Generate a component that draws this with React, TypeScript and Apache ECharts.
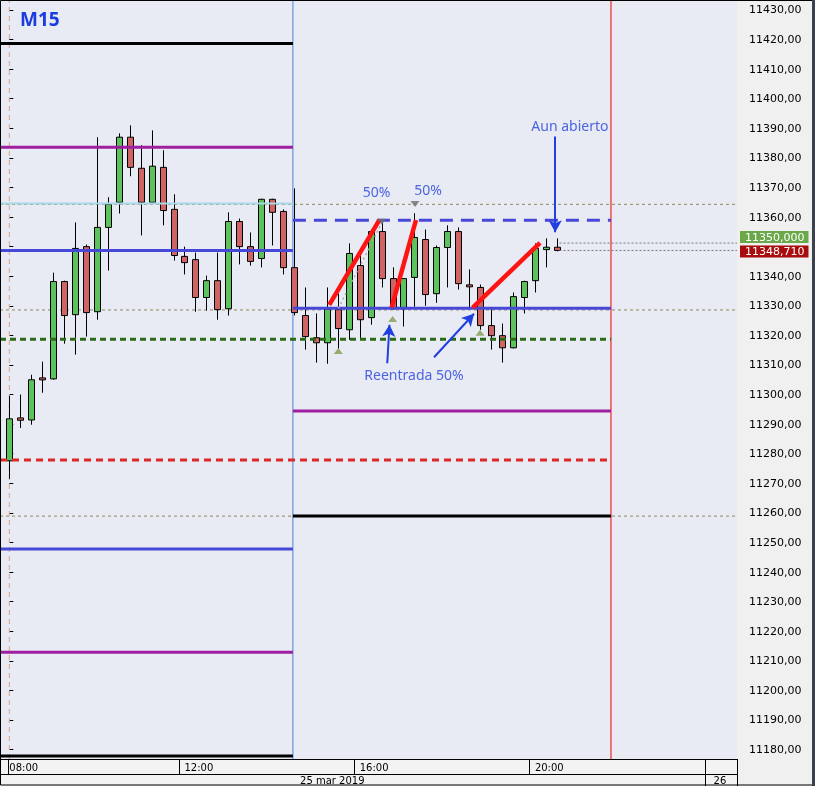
import React, { useEffect, useRef } from 'react';
import * as echarts from 'echarts';

// ---- candle data (M15, 25 mar 2019, from 08:00) ----
const opens = [11277.6, 11292.1, 11291.4, 11305.5, 11305.3, 11338.2, 11327.0, 11350.0, 11328.0, 11356.5,
  11365.0, 11387.0, 11376.5, 11365.0, 11376.8, 11362.6, 11346.7, 11345.6, 11332.8, 11338.5,
  11329.0, 11358.5, 11350.0, 11346.0, 11366.0, 11361.9, 11342.9, 11326.7, 11319.2, 11317.5,
  11328.7, 11321.9, 11343.6, 11326.0, 11355.1, 11339.2, 11329.0, 11339.6, 11352.4, 11334.1,
  11349.7, 11355.1, 11336.9, 11336.2, 11323.3, 11319.9, 11315.8, 11332.8, 11338.5, 11349.0, 11349.8];
const closes = [11291.8, 11291.3, 11305.0, 11305.1, 11338.2, 11326.7, 11349.4, 11327.7, 11356.5, 11364.3,
  11387.0, 11376.8, 11365.0, 11377.2, 11362.2, 11347.0, 11344.6, 11332.8, 11338.5, 11328.7,
  11358.5, 11350.0, 11345.0, 11366.0, 11361.6, 11342.9, 11327.7, 11319.6, 11317.5, 11328.9,
  11322.3, 11347.7, 11325.3, 11355.1, 11339.2, 11329.0, 11339.2, 11353.1, 11333.8, 11349.7,
  11355.1, 11337.5, 11336.6, 11323.3, 11319.9, 11315.8, 11333.1, 11338.2, 11349.4, 11349.8, 11348.71];
const lows = [11271.5, 11288.7, 11289.8, 11300.6, 11305.0, 11317.2, 11313.5, 11319.6, 11325.3, 11341.9,
  11361.2, 11373.8, 11353.8, 11365.0, 11357.2, 11345.3, 11340.6, 11328.0, 11328.4, 11325.3,
  11326.7, 11344.0, 11343.6, 11343.0, 11350.4, 11340.6, 11326.7, 11315.2, 11310.8, 11310.4,
  11315.5, 11318.5, 11318.9, 11323.6, 11336.2, 11328.7, 11323.0, 11329.7, 11330.0, 11331.0,
  11336.2, 11335.5, 11329.4, 11321.9, 11315.2, 11310.8, 11315.6, 11327.4, 11334.5, 11343.0, 11348.4];
const highs = [11299.6, 11300.0, 11306.7, 11311.1, 11341.2, 11338.5, 11358.2, 11350.7, 11387.0, 11366.7,
  11388.3, 11391.0, 11384.3, 11389.3, 11382.6, 11367.7, 11350.0, 11348.0, 11340.2, 11348.0,
  11361.6, 11359.5, 11354.8, 11366.2, 11366.2, 11362.6, 11369.7, 11336.2, 11327.4, 11336.2,
  11334.1, 11351.1, 11347.0, 11355.8, 11358.2, 11343.0, 11339.4, 11361.3, 11355.8, 11350.4,
  11357.2, 11356.5, 11342.3, 11337.2, 11329.0, 11324.0, 11334.5, 11338.5, 11351.1, 11352.8, 11352.8];

// ---- axes ----
const priceTicks = [11180, 11190, 11200, 11210, 11220, 11230, 11240, 11250, 11260, 11270, 11280, 11290,
  11300, 11310, 11320, 11330, 11340, 11350, 11360, 11370, 11380, 11390, 11400, 11410, 11420, 11430];
const priceMin = 11176.79;
const priceMax = 11433.38;
const barMin = -0.85; // bar index at left edge
const barMax = 66.46; // bar index at right edge
const timeLabels = ['08:00', '12:00', '16:00', '20:00'];
const timeLabelBars = [0, 16, 32, 48];
const timeSeparatorBars = [-0.1, 15.55, 31.5, 47.5, 63.55];
const dateLabels = ['25 mar 2019', '26'];
const dateLabelBars = [29.5, 64.9];
const dateSeparatorBars = [63.55];

// ---- session markers ----
const firstBar = 0;
const sessionOpenBar = 25.9;
const sessionEndBar = 54.95;

// ---- levels ----
const prevLevelPrices = [11418.7, 11383.6, 11364.6, 11348.7, 11247.8, 11212.9, 11177.8];
const prevLevelKinds = ['black', 'purple', 'cyan', 'blue', 'blue', 'purple', 'black'];
const currLevelPrices = [11358.9, 11329.2, 11294.4, 11258.9];
const currLevelKinds = ['blueDash', 'blue', 'purple', 'black'];
const spanLevelPrices = [11318.7, 11277.9];
const spanLevelKinds = ['greenDash', 'redDash'];
const guidePrices = [11364.3, 11328.6, 11258.9];

// ---- annotations ----
const trendLines = [
  [29.22, 11330.3, 33.79, 11359.0],
  [34.92, 11329.5, 37.14, 11359.0],
  [42.32, 11329.4, 48.47, 11351.3],
];
const arrows = [
  [49.86, 11387.2, 49.86, 11354.9],
  [34.52, 11310.6, 34.72, 11323.6],
  [38.79, 11312.6, 42.44, 11327.3],
];
const noteTexts = ['Aun abierto', '50%', '50%', 'Reentrada 50%'];
const noteBars = [51.2, 33.55, 38.24, 36.96];
const notePrices = [11390.9, 11368.6, 11369.4, 11306.9];
const upMarkers = [[30.05, 11314.7], [35.01, 11325.5], [42.99, 11320.9]];
const downMarkers = [[37.05, 11364.4], [34.01, 11358.4]];
const guideDiagonal = [[30.05, 11329.15], [34.01, 11357.9]];
const tagTexts = ['11350,000', '11348,710'];
const tagPrices = [11351.2, 11348.71];
const tagStartBar = 50.25;

// axis labels hidden behind the price tags (as in the original)
const priceLabelValues = priceTicks.filter((t) => tagPrices.every((p) => Math.abs(p - t) > 4));

const kindStyle: Record<string, any> = {
  black: { color: '#000000', width: 3, type: 'solid' },
  purple: { color: '#a01ea0', width: 3, type: 'solid' },
  cyan: { color: '#a8d8e8', width: 2, type: 'solid' },
  blue: { color: '#4848d8', width: 3, type: 'solid' },
  blueDash: { color: '#4848d8', width: 3, type: [13, 8] },
  greenDash: { color: '#2b6a16', width: 3, type: [6, 4] },
  redDash: { color: '#dd2828', width: 3, type: [7, 5] },
};
const verticalStyles = [
  { color: '#e0a080', width: 1, type: [5, 4] },
  { color: '#4a86d8', width: 1, type: 'solid' },
  { color: '#f02828', width: 1.2, type: 'solid' },
];

const GREEN = '#5cc35c';
const RED = '#d06464';
const NOTE_BLUE = '#2342dc';

function levelSeries(price: number, kind: string, from: number, to: number) {
  return {
    type: 'line',
    data: [[from, price], [to, price]],
    showSymbol: false,
    symbol: 'none',
    lineStyle: kindStyle[kind],
    silent: true,
    z: 3,
  };
}

export default function App() {
  const ref = useRef<HTMLDivElement>(null);
  useEffect(() => {
    if (!ref.current) return;
    const chart = echarts.init(ref.current, null, { renderer: 'svg' });
    const candleData = opens.map((o, i) => [i, o, closes[i], lows[i], highs[i]]);

    const series: any[] = [];
    series.push({
      type: 'custom',
      data: candleData,
      encode: { x: 0, y: [1, 2, 3, 4] },
      z: 2,
      silent: true,
      renderItem: (params: any, api: any) => {
        const i = api.value(0);
        const o = api.value(1);
        const c = api.value(2);
        const l = api.value(3);
        const h = api.value(4);
        const pH = api.coord([i, h]);
        const pL = api.coord([i, l]);
        const pO = api.coord([i, o]);
        const pC = api.coord([i, c]);
        const w = 6;
        const x = Math.round(pH[0]) + 0.5;
        let yTop = Math.min(pO[1], pC[1]);
        let hgt = Math.abs(pO[1] - pC[1]);
        if (hgt < 2) { yTop -= (2 - hgt) / 2; hgt = 2; }
        return {
          type: 'group',
          children: [
            { type: 'line', shape: { x1: x, y1: pH[1], x2: x, y2: pL[1] }, style: { stroke: '#000', lineWidth: 1 } },
            { type: 'rect', shape: { x: x - w / 2, y: yTop, width: w, height: hgt },
              style: { fill: c >= o ? GREEN : RED, stroke: '#000', lineWidth: 1 } },
          ],
        };
      },
    });

    // dotted guide lines across
    guidePrices.forEach((p) => {
      series.push({
        type: 'line', data: [[barMin, p], [barMax, p]], showSymbol: false, symbol: 'none', silent: true, z: 1,
        lineStyle: { color: '#8c8c5c', width: 1, type: [3, 3] },
      });
    });

    // vertical session lines
    [firstBar, sessionOpenBar, sessionEndBar].forEach((b, k) => {
      series.push({
        type: 'line', data: [[b, priceMin], [b, priceMax]], showSymbol: false, symbol: 'none', silent: true, z: 1,
        lineStyle: verticalStyles[k],
      });
    });

    prevLevelPrices.forEach((p, k) => series.push(levelSeries(p, prevLevelKinds[k], barMin, sessionOpenBar)));
    currLevelPrices.forEach((p, k) => series.push(levelSeries(p, currLevelKinds[k], sessionOpenBar, sessionEndBar)));
    spanLevelPrices.forEach((p, k) => series.push(levelSeries(p, spanLevelKinds[k], barMin, sessionEndBar)));

    // gray diagonal dotted guide
    series.push({
      type: 'line', data: guideDiagonal, showSymbol: false, symbol: 'none', silent: true, z: 3,
      lineStyle: { color: '#a8a8a8', width: 1.5, type: [2, 3] },
    });

    // red trend lines
    trendLines.forEach((t) => {
      series.push({
        type: 'line', data: [[t[0], t[1]], [t[2], t[3]]], showSymbol: false, symbol: 'none', silent: true, z: 6,
        lineStyle: { color: '#ff1414', width: 4.5, cap: 'butt' },
      });
    });

    // price tags
    tagPrices.forEach((p, k) => {
      series.push({
        type: 'line', data: [[tagStartBar, p], [barMax, p]], showSymbol: false, symbol: 'none', silent: true,
        z: 7 + k, clip: false,
        lineStyle: { color: '#7a7a7a', width: 1, type: [2, 2] },
        endLabel: {
          show: true,
          formatter: () => tagTexts[k],
          distance: 3,
          offset: k === 0 ? [0, -6] : [0, 1],
          color: '#ffffff',
          backgroundColor: k === 0 ? '#6aa84a' : '#a80c0c',
          padding: [1, 4, 0, 5],
          fontFamily: 'DejaVu Sans',
          fontSize: 11,
        },
      });
    });

    // markers
    series.push({
      type: 'scatter', data: upMarkers, symbol: 'triangle', symbolSize: [9, 6], silent: true, z: 6,
      itemStyle: { color: '#7f9d4c' },
    });
    series.push({
      type: 'scatter', data: downMarkers, symbol: 'triangle', symbolRotate: 180, symbolSize: [9, 6], silent: true, z: 6,
      itemStyle: { color: '#6e6e6e' },
    });

    // notes + arrows
    series.push({
      type: 'scatter',
      data: noteTexts.map((t, k) => ({ value: [noteBars[k], notePrices[k]], name: t })),
      symbolSize: 1,
      itemStyle: { color: 'rgba(0,0,0,0)' },
      silent: true,
      z: 8,
      label: {
        show: true, position: 'inside', formatter: (p: any) => p.name,
        color: NOTE_BLUE, fontFamily: 'Noto Sans', fontSize: 14,
      },
      markLine: {
        silent: true,
        symbol: ['none', 'arrow'],
        symbolSize: [10, 12],
        label: { show: false },
        emphasis: { disabled: true },
        lineStyle: { color: '#1f3fe0', width: 2, type: 'solid' },
        data: arrows.map((a) => [{ coord: [a[0], a[1]] }, { coord: [a[2], a[3]] }]),
      },
    });

    const option: any = {
      animation: false,
      backgroundColor: 'transparent',
      title: {
        text: 'M15', left: 15, top: 4,
        textStyle: { color: '#1a3de0', fontSize: 19, fontWeight: 'bold', fontFamily: 'Noto Sans' },
      },
      grid: {
        left: 0, top: 0, right: 78, bottom: 27, show: true,
        backgroundColor: '#e8eaf4', borderWidth: 0,
      },
      xAxis: [
        {
          type: 'value', min: barMin, max: barMax, position: 'bottom',
          splitLine: { show: false },
          axisLine: { show: true, onZero: false, lineStyle: { color: '#000', width: 1 } },
          axisTick: { show: true, customValues: timeSeparatorBars, length: 15, lineStyle: { color: '#000' } },
          axisLabel: {
            show: true, customValues: timeLabelBars, align: 'left', margin: 3,
            color: '#000', fontFamily: 'DejaVu Sans', fontSize: 10,
            formatter: (v: number) => {
              let best = 0;
              timeLabelBars.forEach((b, k) => { if (Math.abs(b - v) < Math.abs(timeLabelBars[best] - v)) best = k; });
              return timeLabels[best];
            },
          },
        },
        {
          type: 'value', min: barMin, max: barMax, position: 'bottom', offset: 15,
          splitLine: { show: false },
          axisLine: { show: true, onZero: false, lineStyle: { color: '#000', width: 1 } },
          axisTick: { show: true, customValues: dateSeparatorBars, length: 12, lineStyle: { color: '#000' } },
          axisLabel: {
            show: true, customValues: dateLabelBars, align: 'center', margin: 1,
            color: '#000', fontFamily: 'DejaVu Sans', fontSize: 10,
            formatter: (v: number) => {
              let best = 0;
              dateLabelBars.forEach((b, k) => { if (Math.abs(b - v) < Math.abs(dateLabelBars[best] - v)) best = k; });
              return dateLabels[best];
            },
          },
        },
      ],
      yAxis: {
        type: 'value', position: 'right', min: priceMin, max: priceMax, offset: 3, scale: true,
        splitLine: { show: false },
        axisLine: { show: false },
        axisTick: { show: true, customValues: priceTicks, length: 4, lineStyle: { color: '#000' } },
        axisLabel: {
          show: true, customValues: priceLabelValues, margin: 9, color: '#000',
          fontFamily: 'DejaVu Sans', fontSize: 11,
          formatter: (v: number) => v.toFixed(2).replace('.', ','),
        },
      },
      graphic: [
        { type: 'rect', z: -10, shape: { x: 737, y: 0, width: 78, height: 786 }, style: { fill: '#f0f0f0' } },
        { type: 'rect', z: -10, shape: { x: 0, y: 759, width: 737, height: 27 }, style: { fill: '#f3f3f3' } },
        { type: 'line', z: 50, shape: { x1: 737.5, y1: 759, x2: 737.5, y2: 786 }, style: { stroke: '#000', lineWidth: 1 } },
        { type: 'rect', z: 50, shape: { x: 0.5, y: 0.5, width: 812, height: 784.5 }, style: { fill: 'none', stroke: '#000', lineWidth: 1 } },
        { type: 'rect', z: 50, shape: { x: 812, y: 0, width: 3, height: 786 }, style: { fill: '#3a4252' } },
      ],
      series,
    };
    chart.setOption(option);
    return () => chart.dispose();
  }, []);
  return <div ref={ref} style={{ position: 'fixed', left: 0, top: 0, width: 815, height: 786 }} />;
}
